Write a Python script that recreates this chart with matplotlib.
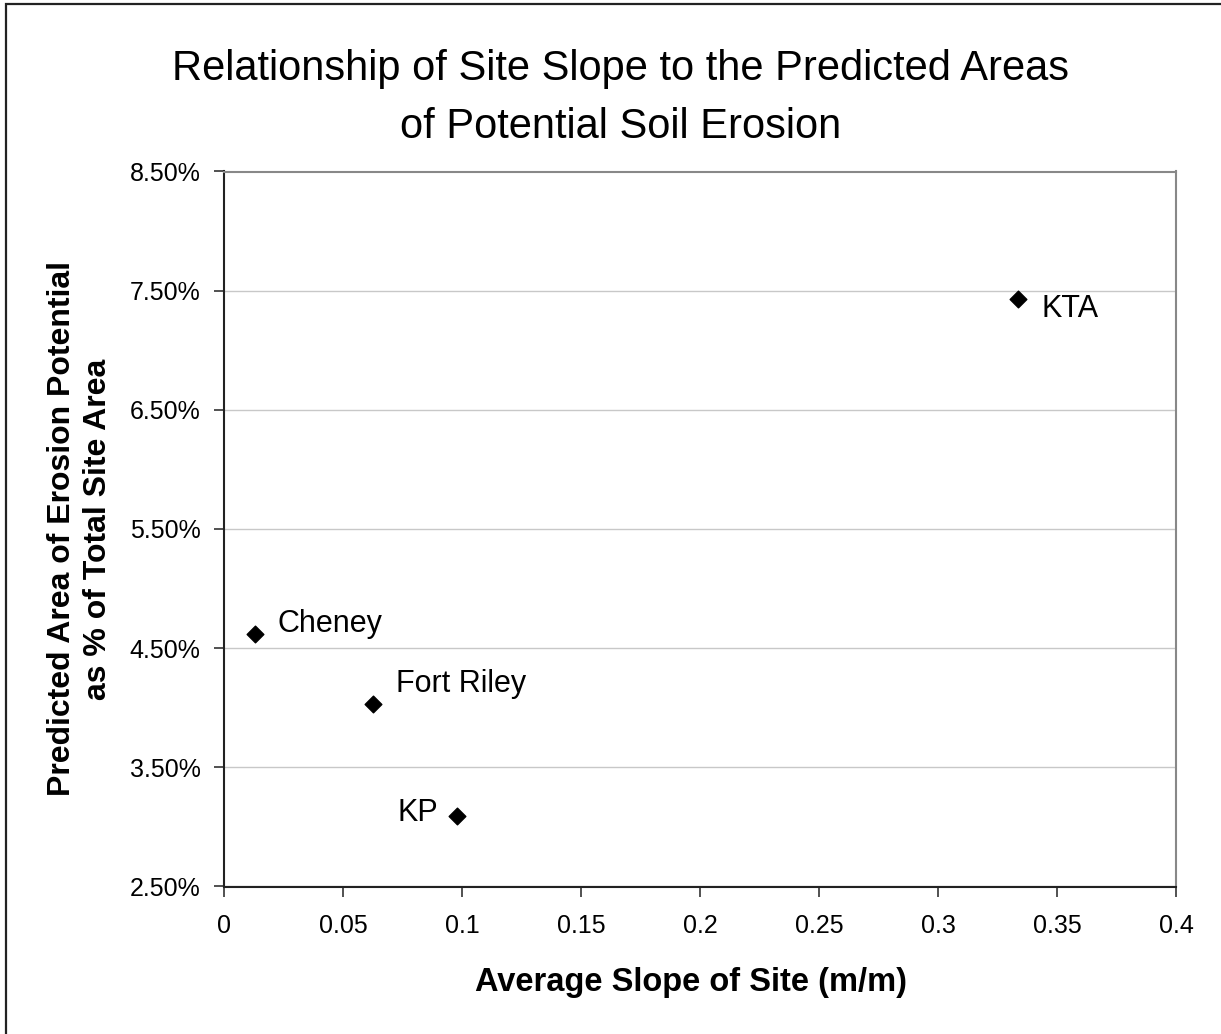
import matplotlib
matplotlib.use("Agg")
import matplotlib.pyplot as plt
from matplotlib.patches import Rectangle
from matplotlib.ticker import FuncFormatter

plt.rcParams["font.family"] = ["Liberation Sans", "DejaVu Sans"]

sites = ["Cheney", "Fort Riley", "KP", "KTA"]
slope = [0.0130, 0.0625, 0.0978, 0.3337]
erosion_pct = [4.62, 4.03, 3.09, 7.43]

# label offsets in points (baseline anchored), and horizontal alignment per site
offsets = [(16, 1), (16.5, 9), (-13.5, -3.6), (16.8, -12.7)]
aligns = ["left", "left", "right", "left"]

fig = plt.figure(figsize=(12.21, 10.34), dpi=100)
ax = fig.add_axes([224 / 1221, 1 - 886.5 / 1034, 952 / 1221, 715 / 1034])

ax.scatter(slope, erosion_pct, marker="D", s=72, color="black", zorder=3)
for name, x, y, off, ha in zip(sites, slope, erosion_pct, offsets, aligns):
    ax.annotate(name, (x, y), xytext=off, textcoords="offset points",
                ha=ha, va="baseline", fontsize=22)

ax.set_xlim(0, 0.4)
ax.set_ylim(2.5, 8.5)
ax.set_xticks([0, 0.05, 0.1, 0.15, 0.2, 0.25, 0.3, 0.35, 0.4])
ax.set_xticklabels(["0", "0.05", "0.1", "0.15", "0.2", "0.25", "0.3", "0.35", "0.4"])
ax.set_yticks([2.5, 3.5, 4.5, 5.5, 6.5, 7.5, 8.5])
ax.yaxis.set_major_formatter(FuncFormatter(lambda v, p: f"{v:.2f}%"))
ax.tick_params(labelsize=18, length=7, width=1.2, color="#333333")
ax.tick_params(axis="y", pad=10)
ax.tick_params(axis="x", pad=13)

ax.grid(axis="y", color="#c8c8c8", linewidth=1)
ax.set_axisbelow(True)
for side in ["left", "bottom"]:
    ax.spines[side].set_color("#222222")
    ax.spines[side].set_linewidth(1.5)
for side in ["top", "right"]:
    ax.spines[side].set_color("#888888")
    ax.spines[side].set_linewidth(1.5)

ax.set_xlabel("Average Slope of Site (m/m)", fontsize=23.5, fontweight="bold", va="top")
ax.xaxis.set_label_coords(0.491, -0.113)
ax.set_ylabel("Predicted Area of Erosion Potential\nas % of Total Site Area",
              fontsize=23, fontweight="bold", labelpad=12, linespacing=1.25)

fig.text(0.508, 1 - 98 / 1034,
         "Relationship of Site Slope to the Predicted Areas\nof Potential Soil Erosion",
         ha="center", va="center", fontsize=30, linespacing=1.55)

# outer chart border
fig.patches.append(Rectangle((6 / 1221, -0.05), 1.1, 1 - 4 / 1034 + 0.05,
                             transform=fig.transFigure, fill=False,
                             edgecolor="#222222", linewidth=1.6))

fig.savefig("out.png", dpi=100, facecolor="white")
